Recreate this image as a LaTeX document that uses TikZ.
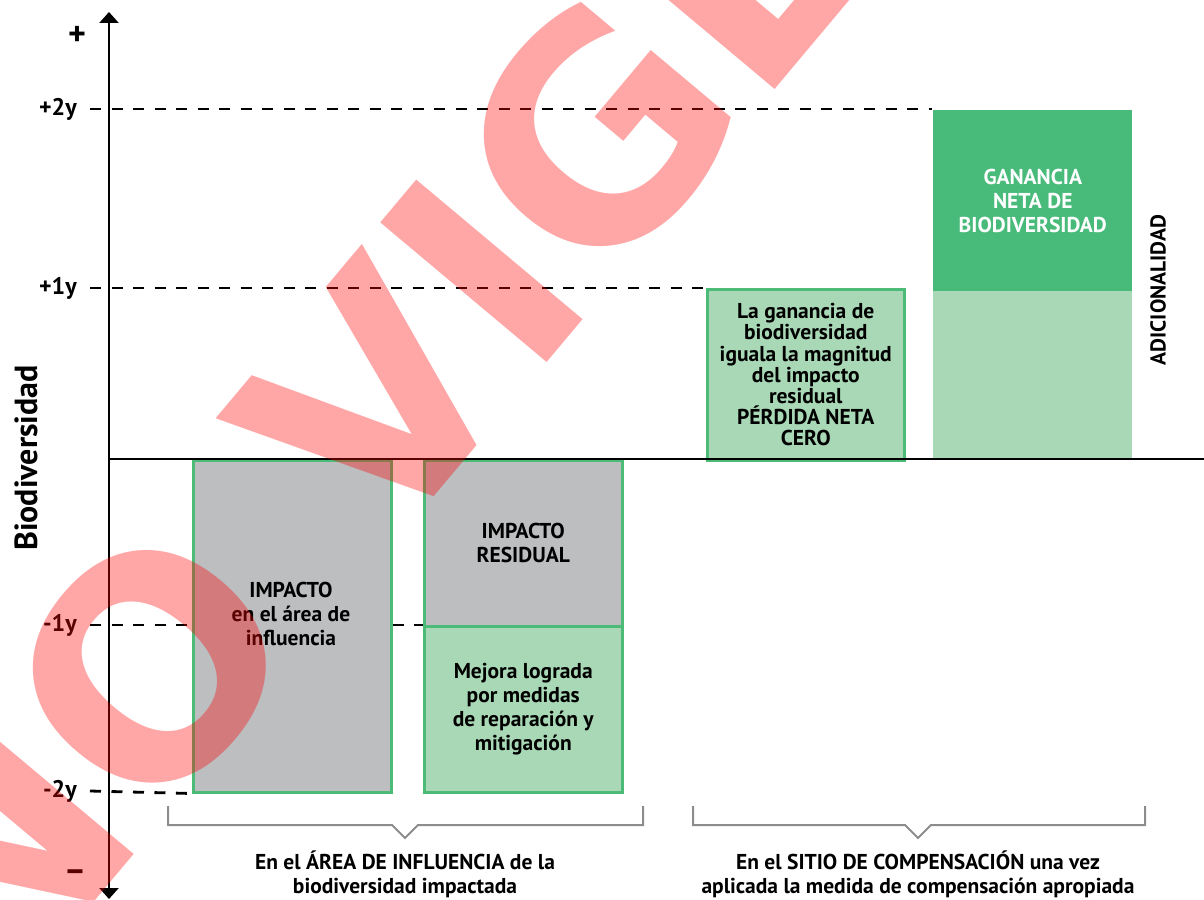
\documentclass[tikz,border=0pt]{standalone}
\usepackage{fontspec}
\setmainfont{PT Sans}
\newfontfamily\marcafont{DejaVu Sans}
\usetikzlibrary{arrows.meta,positioning}
\definecolor{gris}{RGB}{188,190,192}
\definecolor{verde}{RGB}{77,187,120}
\definecolor{verdeosc}{RGB}{72,186,122}
\definecolor{verdecl}{RGB}{168,216,181}
\definecolor{grisllave}{RGB}{140,140,140}
\tikzset{
  caja/.style={draw=verde, line width=2.5pt, anchor=north west, inner sep=0pt},
  txt/.style={font=\bfseries\fontsize{21.5}{24}\selectfont, align=center},
  eti/.style={font=\bfseries\fontsize{24}{24}\selectfont, inner sep=0pt},
  guia/.style={line width=2.8pt, dash pattern=on 11pt off 10.5pt},
  llave/.style={grisllave, line width=2pt},
  marca/.style={font=\marcafont\bfseries\fontsize{298}{298}\selectfont, text=red, inner sep=0pt}
}
\begin{document}
\begin{tikzpicture}[x=1pt,y=-1pt]
\useasboundingbox (0,0) rectangle (1204,899);
\coordinate (g2) at (90,109);
\coordinate (g1) at (90,288);
\coordinate (gm1) at (90,625);
\coordinate (gm2) at (90,791);
\node[eti, font=\bfseries\fontsize{34}{34}\selectfont] (mas) at (77,36) {+};
\node[eti, left=13pt of g2] (p2) {+2y};
\node[eti, left=13pt of g1] (p1) {+1y};
\node[eti, left=13pt of gm1] (m1) {-1y};
\node[eti, left=13pt of gm2] (m2) {-2y};
\node[eti, font=\bfseries\fontsize{34}{34}\selectfont] (menos) at (75,876) {--};
\node[font=\bfseries\fontsize{32}{32}\selectfont, rotate=90] (bio) at (26,458) {Biodiversidad};
% cajas
\node[caja, fill=gris, minimum width=198pt, minimum height=332pt] (impacto) at (192,459) {};
\node[txt] (timpacto) at (291,614) {IMPACTO\\en el área de\\influencia};
\node[caja, fill=gris, minimum width=198pt, minimum height=166pt, txt] (residual) at (423,459) {IMPACTO\\RESIDUAL};
\node[caja, fill=verdecl, minimum width=198pt, minimum height=166pt, txt] (mejora) at (423,625) {Mejora lograda\\por medidas\\de reparación y\\mitigación};
\node[caja, fill=verdecl, minimum width=197pt, minimum height=171pt, txt, font=\bfseries\fontsize{21.5}{21.2}\selectfont] (igual) at (706,288) {La ganancia de\\biodiversidad\\iguala la magnitud\\del impacto\\residual\\PÉRDIDA NETA\\CERO};
\node[caja, draw=none, fill=verdeosc, minimum width=199pt, minimum height=181pt, txt, text=white] (gnet) at (932,109) {GANANCIA\\NETA DE\\BIODIVERSIDAD};
\node[caja, draw=none, fill=verdecl, minimum width=199pt, minimum height=169pt] (adic) at (932,290) {};
\node[txt, rotate=90] (adicional) at (1158,290) {ADICIONALIDAD};
% guias
\draw[guia] (g2) -- (gnet.north west);
\draw[guia] (g1) -- (igual.north west);
\draw[guia] (gm1) -- (impacto.west |- gm1);
\draw[guia] (impacto.east |- gm1) -- (mejora.north west);
\draw[guia] (gm2) -- (impacto.south west);
% ejes
\coordinate (o) at (109,459);
\coordinate (ox) at (1204,459);
\coordinate (ejeinf) at (109,899);
\coordinate (ejesup) at (109,12);
\draw[line width=2pt] (o) -- (ox);
\draw[line width=2.5pt, {Triangle[length=11pt,width=19pt]}-{Triangle[length=11pt,width=19pt]}] (ejeinf) -- (ejesup);
% llaves
\draw[llave] (168,806) -- (168,825) -- (392,825) -- (405,838) -- (418,825) -- (643,825) -- (643,806);
\draw[llave] (693,806) -- (693,825) -- (905,825) -- (918,838) -- (931,825) -- (1145,825) -- (1145,806);
\node[txt] (txtarea) at (405,874) {En el ÁREA DE INFLUENCIA de la\\biodiversidad impactada};
\node[txt] (txtsitio) at (918,874) {En el SITIO DE COMPENSACIÓN una vez\\aplicada la medida de compensación apropiada};
% marca de agua
\begin{scope}
\clip (0,0) rectangle (1204,899);
\begin{scope}[transparency group, opacity=0.35]
\node[marca, rotate=50] (novig) at (482,271) {\llap{NO V}I\rlap{GENTE}};
\end{scope}
\end{scope}
\end{tikzpicture}
\end{document}
